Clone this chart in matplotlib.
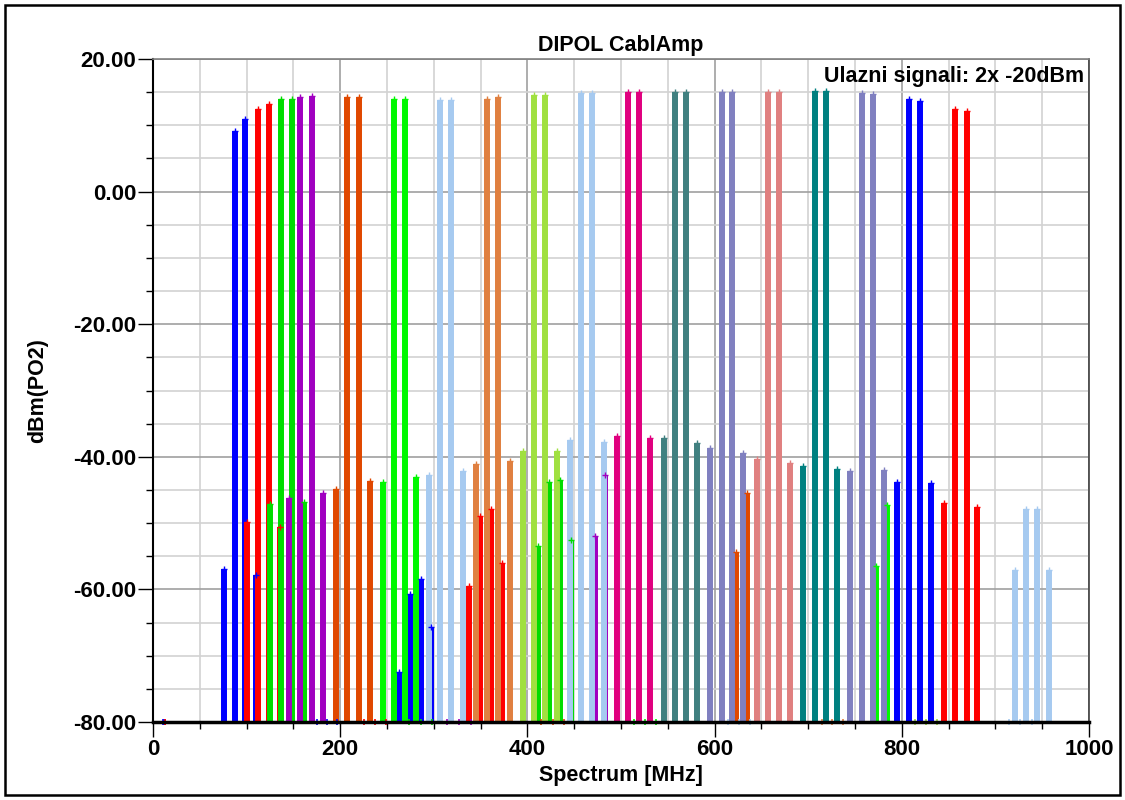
import numpy as np
import matplotlib
matplotlib.use('Agg')
import matplotlib.pyplot as plt
from matplotlib.patches import Rectangle
from matplotlib.ticker import MultipleLocator, FormatStrFormatter

plt.rcParams['font.family'] = ['Liberation Sans', 'DejaVu Sans']
plt.rcParams['font.weight'] = 'bold'

# each pair: (colour, freqs [MHz], levels [dBm], products under -80 shown on the baseline)
blue_f = [87.6, 98.3, 75.5, 110.5, 262.8, 274.6, 286.0, 296.8]
blue_y = [9.1, 10.9, -56.9, -57.9, -72.5, -60.7, -58.5, -65.6]
blue_b = [10.7, 175.2, 185.9, 196.6]

red_f = [112.5, 124.3, 100.4, 135.8, 337.3, 349.3, 361.0, 372.8]
red_y = [12.4, 13.2, -49.8, -50.6, -59.5, -49.0, -47.8, -56.0]
red_b = [11.8, 225.0, 236.8, 248.6]

green_f = [137.0, 148.9, 125.4, 161.5, 411.2, 423.0, 434.8, 446.8]
green_y = [13.9, 14.0, -47.1, -46.8, -53.4, -43.8, -43.5, -52.6]
green_b = [11.9, 274.0, 285.9, 297.8]

purple_f = [157.0, 169.9, 145.3, 181.6, 471.8, 483.3]
purple_y = [14.2, 14.4, -46.2, -45.4, -52.0, -42.8]
purple_b = [12.9, 314.0, 326.9, 339.8]

orred_f = [207.3, 219.7, 195.2, 231.5, 623.0, 634.8]
orred_y = [14.2, 14.2, -44.9, -43.7, -54.3, -45.5]
orred_b = [12.4, 414.6, 427.0, 439.4]

green2_f = [257.2, 268.9, 245.4, 281.0, 772.0, 784.5]
green2_y = [13.9, 13.9, -43.8, -43.1, -56.4, -47.2]
green2_b = [11.7, 514.4, 526.1, 537.8]

ltblue_f = [307.0, 318.7, 295.1, 331.5, 921.2, 933.0, 944.8, 957.6]
ltblue_y = [13.8, 13.8, -42.7, -42.2, -57.0, -47.9, -47.9, -57.0]
ltblue_b = [11.7, 614.0, 625.7, 637.4]

orange_f = [357.2, 368.7, 345.4, 381.4]
orange_y = [14.0, 14.2, -41.1, -40.7]
orange_b = [11.5, 714.4, 725.9, 737.4]

ygreen_f = [407.0, 418.8, 395.3, 431.3]
ygreen_y = [14.6, 14.6, -39.2, -39.1]
ygreen_b = [11.8, 814.0, 825.8, 837.6]

ltblue2_f = [457.4, 469.4, 445.5, 481.5]
ltblue2_y = [14.9, 14.9, -37.5, -37.7]
ltblue2_b = [12.0, 914.8, 926.8, 938.8]

magenta_f = [507.5, 519.2, 495.4, 531.3]
magenta_y = [15.0, 15.0, -36.8, -37.2]
magenta_b = [11.7]

dteal_f = [557.7, 569.0, 545.6, 581.5]
dteal_y = [15.0, 15.0, -37.2, -37.9]
dteal_b = [11.3]

lav_f = [607.5, 618.9, 595.5, 630.3]
lav_y = [15.0, 15.0, -38.6, -39.4]
lav_b = [11.4]

pink_f = [657.4, 668.8, 645.6, 680.6]
pink_y = [15.0, 15.0, -40.3, -40.9]
pink_b = [11.4]

teal_f = [706.9, 718.7, 694.8, 730.4]
teal_y = [15.2, 15.2, -41.4, -41.8]
teal_b = [11.8]

lav2_f = [757.1, 768.9, 744.7, 781.0]
lav2_y = [14.8, 14.7, -42.2, -42.0]
lav2_b = [11.8]

blue2_f = [807.4, 819.1, 794.9, 830.8]
blue2_y = [14.0, 13.7, -43.8, -44.0]
blue2_b = [11.7]

red2_f = [857.2, 869.3, 845.1, 880.7]
red2_y = [12.5, 12.2, -47.0, -47.5]
red2_b = [13.0]

series = [
    ('#0000ff', blue_f, blue_y, blue_b),
    ('#ff0000', red_f, red_y, red_b),
    ('#00dd00', green_f, green_y, green_b),
    ('#a000c0', purple_f, purple_y, purple_b),
    ('#e04800', orred_f, orred_y, orred_b),
    ('#00f800', green2_f, green2_y, green2_b),
    ('#a6caf0', ltblue_f, ltblue_y, ltblue_b),
    ('#e08040', orange_f, orange_y, orange_b),
    ('#a0e040', ygreen_f, ygreen_y, ygreen_b),
    ('#a6caf0', ltblue2_f, ltblue2_y, ltblue2_b),
    ('#e0007f', magenta_f, magenta_y, magenta_b),
    ('#408080', dteal_f, dteal_y, dteal_b),
    ('#8080c0', lav_f, lav_y, lav_b),
    ('#e08080', pink_f, pink_y, pink_b),
    ('#008080', teal_f, teal_y, teal_b),
    ('#8080c0', lav2_f, lav2_y, lav2_b),
    ('#0000ff', blue2_f, blue2_y, blue2_b),
    ('#ff0000', red2_f, red2_y, red2_b),
]

fig = plt.figure(figsize=(11.25, 8), dpi=100)
ax = fig.add_axes([153/1125, 1 - 722/800, 936/1125, 663/800])

ymin = -80
for col, f, y, b in series:
    ax.vlines(f, ymin, y, colors=col, linewidth=4.3, zorder=3)
    ax.plot(f, y, '+', color=col, markersize=4, mew=1, zorder=4)
    ax.plot(b, [ymin]*len(b), '+', color=col, markersize=5, mew=1.2, zorder=4, clip_on=False)

ax.set_xlim(0, 1000)
ax.set_ylim(-80, 20)
ax.xaxis.set_major_locator(MultipleLocator(200))
ax.xaxis.set_minor_locator(MultipleLocator(50))
ax.yaxis.set_major_locator(MultipleLocator(20))
ax.yaxis.set_minor_locator(MultipleLocator(5))
ax.yaxis.set_major_formatter(FormatStrFormatter('%.2f'))

ax.grid(which='minor', color='#d2d2d2', linewidth=1.2, zorder=0)
ax.grid(which='major', color='#a0a0a0', linewidth=1.2, zorder=0)
ax.set_axisbelow(True)

ax.tick_params(which='major', direction='out', length=11, width=1, labelsize=16, pad=1)
ax.tick_params(which='minor', direction='out', length=5, width=1)
for lab in ax.get_xticklabels() + ax.get_yticklabels():
    lab.set_fontweight('bold')

ax.spines['bottom'].set_linewidth(2.5)
ax.spines['bottom'].set_zorder(5)
ax.spines['left'].set_linewidth(1.5)
ax.spines['top'].set_color('#808080')
ax.spines['top'].set_linewidth(1.2)
ax.spines['right'].set_color('#404040')
ax.spines['right'].set_linewidth(1.2)

ax.set_title('DIPOL CablAmp', fontsize=15.5, fontweight='bold', pad=6)
ax.set_xlabel('Spectrum [MHz]', fontsize=15.5, fontweight='bold', labelpad=4)
ax.set_ylabel('dBm(PO2)', fontsize=15.5, fontweight='bold', labelpad=18)
ax.text(0.995, 0.99, 'Ulazni signali: 2x -20dBm', transform=ax.transAxes,
        ha='right', va='top', fontsize=15.5, fontweight='bold', zorder=6)

fig.patches.append(Rectangle((5/1125, 5/800), 1115/1125, 790/800, transform=fig.transFigure,
                             fill=False, edgecolor='black', linewidth=1.8))

fig.savefig('out.png', dpi=100)
